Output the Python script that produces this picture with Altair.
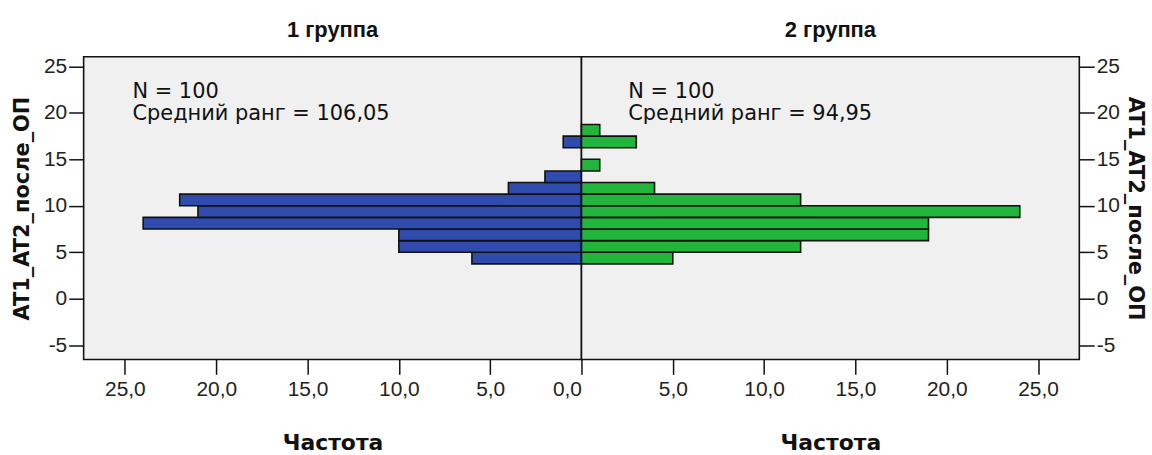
import altair as alt
import pandas as pd

# ---- data ----
bin_lo = [3.75, 5.0, 6.25, 7.5, 8.75, 10.0, 11.25, 12.5, 13.75, 15.0, 16.25, 17.5]
bin_hi = [5.0, 6.25, 7.5, 8.75, 10.0, 11.25, 12.5, 13.75, 15.0, 16.25, 17.5, 18.75]
group1_counts = [6, 10, 10, 24, 21, 22, 4, 2, 0, 0, 1, 0]
group2_counts = [5, 12, 19, 19, 24, 12, 4, 0, 1, 0, 3, 1]
panel_titles = ["1 группа", "2 группа"]
n_values = [100, 100]
mean_ranks = ["106,05", "94,95"]
y_ticks = [-5, 0, 5, 10, 15, 20, 25]
x_ticks_left = [0, 5, 10, 15, 20, 25]
x_ticks_right = [5, 10, 15, 20, 25]
var_name = "AT1_AT2_после_ОП"
x_title = "Частота"

FONT = "Liberation Sans"
WIDE = "DejaVu Sans"
X_DOMAIN = [0, 27.26]
Y_DOMAIN = [-6.54, 26.04]
W, H = 500, 304
BLUE = "#2F4BAE"
GREEN = "#22B53C"


def panel(counts, color, title, xticks, side, nval, rank, text_x, ytitle_pad):
    df = pd.DataFrame({"lo": bin_lo, "hi": bin_hi, "count": counts})
    df = df[df["count"] > 0].copy()
    df["zero"] = 0
    bars = alt.Chart(df).mark_rect(
        fill=color, stroke="#111111", strokeWidth=1.6
    ).encode(
        x=alt.X(
            "count:Q",
            scale=alt.Scale(domain=X_DOMAIN, reverse=(side == "left"), nice=False, zero=False),
            axis=alt.Axis(
                values=xticks,
                labelExpr="replace(format(datum.value, '.1f'), '.', ',')",
                tickSize=15, tickWidth=1.5, tickColor="#111111",
                labelFontSize=21, labelFont=FONT, labelColor="#222222", labelPadding=4,
                title=x_title, titleFont=WIDE, titleFontSize=22, titleFontWeight="bold",
                titleColor="#111111", titlePadding=33,
                domain=False, grid=False,
            ),
        ),
        x2="zero:Q",
        y=alt.Y(
            "lo:Q",
            scale=alt.Scale(domain=Y_DOMAIN, nice=False, zero=False),
            axis=alt.Axis(
                orient=side, values=y_ticks,
                labelExpr="datum.value < 0 ? '-' + abs(datum.value) : '' + datum.value",
                tickSize=15, tickWidth=1.5, tickColor="#111111",
                labelFontSize=21, labelFont=FONT, labelColor="#222222", labelPadding=2,
                title=var_name, titleFont=WIDE, titleFontSize=21, titleFontWeight="bold",
                titleColor="#111111", titlePadding=ytitle_pad,
                domain=False, grid=False,
            ),
        ),
        y2="hi:Q",
    )
    t1 = alt.Chart(pd.DataFrame({"t": [f"N = {nval}"]})).mark_text(
        align="left", baseline="alphabetic", font=WIDE, fontSize=21, color="#111111"
    ).encode(x=alt.value(text_x), y=alt.value(41), text="t:N")
    t2 = alt.Chart(pd.DataFrame({"t": [f"Средний ранг = {rank}"]})).mark_text(
        align="left", baseline="alphabetic", font=WIDE, fontSize=21, color="#111111"
    ).encode(x=alt.value(text_x), y=alt.value(64), text="t:N")
    return alt.layer(bars, t1, t2).properties(
        width=W, height=H,
        title=alt.TitleParams(
            text=title, font=FONT, fontSize=22, fontWeight="bold",
            color="#111111", anchor="middle", offset=14,
        ),
    )


left = panel(group1_counts, BLUE, panel_titles[0], x_ticks_left, "left",
             n_values[0], mean_ranks[0], 49, 11)
right = panel(group2_counts, GREEN, panel_titles[1], x_ticks_right, "right",
              n_values[1], mean_ranks[1], 47, 5)

chart = alt.hconcat(left, right, spacing=0, bounds="flush").resolve_scale(
    y="independent"
).properties(
    background="white",
    padding={"left": 10, "top": 16, "right": 5, "bottom": 5},
).configure_view(
    fill="#F0F0F0", stroke="#111111", strokeWidth=1.6
)

chart.save("out.html", embed_options={"renderer": "svg", "actions": False})
